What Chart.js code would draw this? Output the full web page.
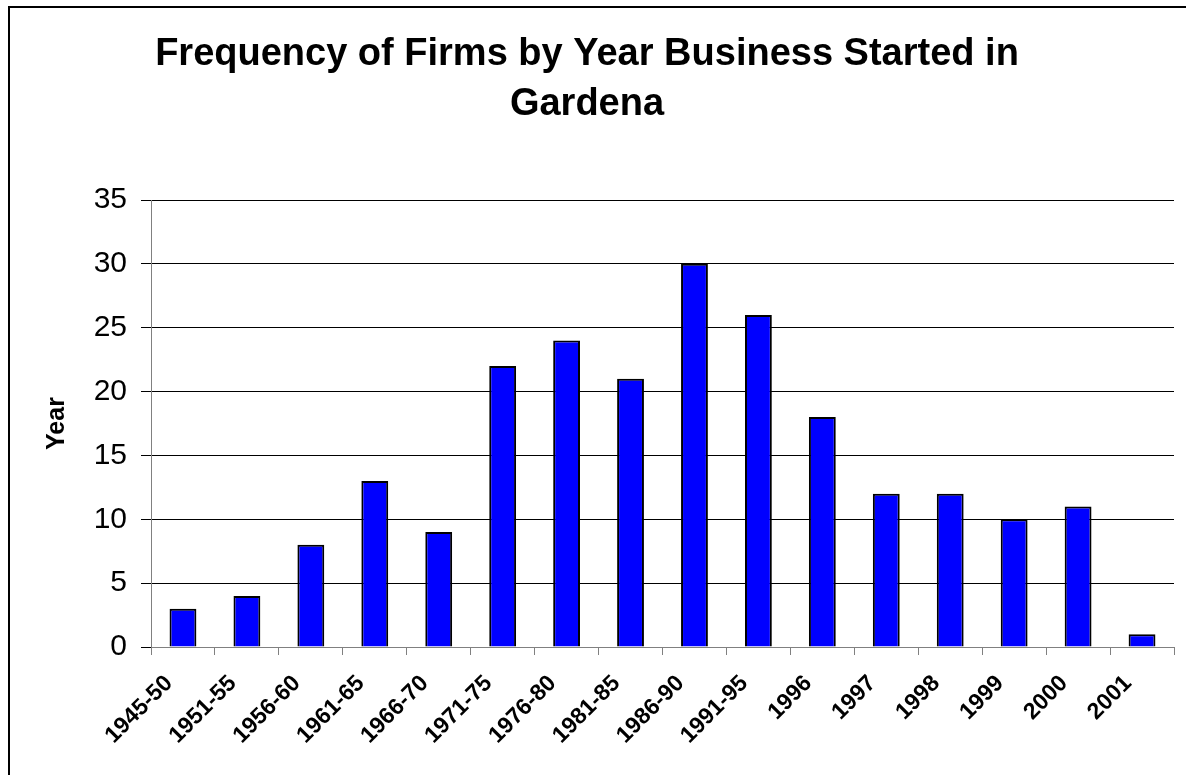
<!DOCTYPE html>
<html>
<head>
<meta charset="utf-8">
<script src="https://cdn.jsdelivr.net/npm/chart.js@4/dist/chart.umd.min.js"></script>
<style>
  html, body { margin: 0; padding: 0; background: #fff; overflow: hidden; }
  #wrap { position: absolute; left: 0; top: 0; width: 1186px; height: 775px; }
  #frame { position: absolute; left: 8px; top: 6px; width: 1200px; height: 800px; border: 2px solid #000; box-sizing: border-box; pointer-events: none; }
  canvas { position: absolute; left: 0; top: 0; }
</style>
</head>
<body>
<div id="wrap">
  <canvas id="c" width="1186" height="775"></canvas>
  <div id="frame"></div>
</div>
<script>
const chartTitle = ["Frequency of Firms by Year Business Started in", "Gardena"];
const yAxisTitle = "Year";
const categories = ["1945-50","1951-55","1956-60","1961-65","1966-70","1971-75","1976-80","1981-85","1986-90","1991-95","1996","1997","1998","1999","2000","2001"];
const firmCounts = [3,4,8,13,9,22,24,21,30,26,18,12,12,10,11,1];
const yTicks = [0,5,10,15,20,25,30,35];

const FONT = "Arial, 'Liberation Sans', Helvetica, sans-serif";

new Chart(document.getElementById('c'), {
  type: 'bar',
  data: {
    labels: categories,
    datasets: [{
      data: firmCounts,
      backgroundColor: '#0000FF',
      borderColor: '#000000',
      borderWidth: 2,
      barPercentage: 0.84,
      categoryPercentage: 0.5
    }]
  },
  options: {
    responsive: false,
    animation: false,
    devicePixelRatio: 1,
    layout: { padding: { left: 0, right: 12, top: 0, bottom: 0 } },
    plugins: {
      legend: { display: false },
      tooltip: { enabled: false },
      title: {
        display: true,
        text: chartTitle,
        color: '#000',
        font: { family: FONT, size: 38, weight: 'bold', lineHeight: 1.316 },
        padding: { top: 30, bottom: 70 }
      }
    },
    scales: {
      x: {
        offset: true,
        grid: { display: true, drawOnChartArea: false, drawTicks: true, tickLength: 8, color: '#808080', offset: true, lineWidth: 1 },
        border: { display: true, color: '#808080', width: 1 },
        ticks: {
          color: '#000',
          font: { family: FONT, size: 23, weight: 'bold' },
          minRotation: 45, maxRotation: 45,
          autoSkip: false,
          padding: 15,
          labelOffset: -14
        },
        afterFit: (s) => { s.height = 128; }
      },
      y: {
        min: 0, max: 35,
        afterBuildTicks: (s) => { s.ticks = yTicks.map(v => ({ value: v })); },
        grid: { color: '#000', lineWidth: 1, drawTicks: true, tickLength: 10 },
        border: { display: true, color: '#808080', width: 1 },
        ticks: {
          color: '#000',
          font: { family: FONT, size: 30 },
          padding: 14
        },
        title: {
          display: true,
          text: yAxisTitle,
          color: '#000',
          font: { family: FONT, size: 25, weight: 'bold' },
          padding: { top: 42, bottom: 0 }
        },
        afterFit: (s) => { s.width = 151; }
      }
    }
  }
});
</script>
</body>
</html>
